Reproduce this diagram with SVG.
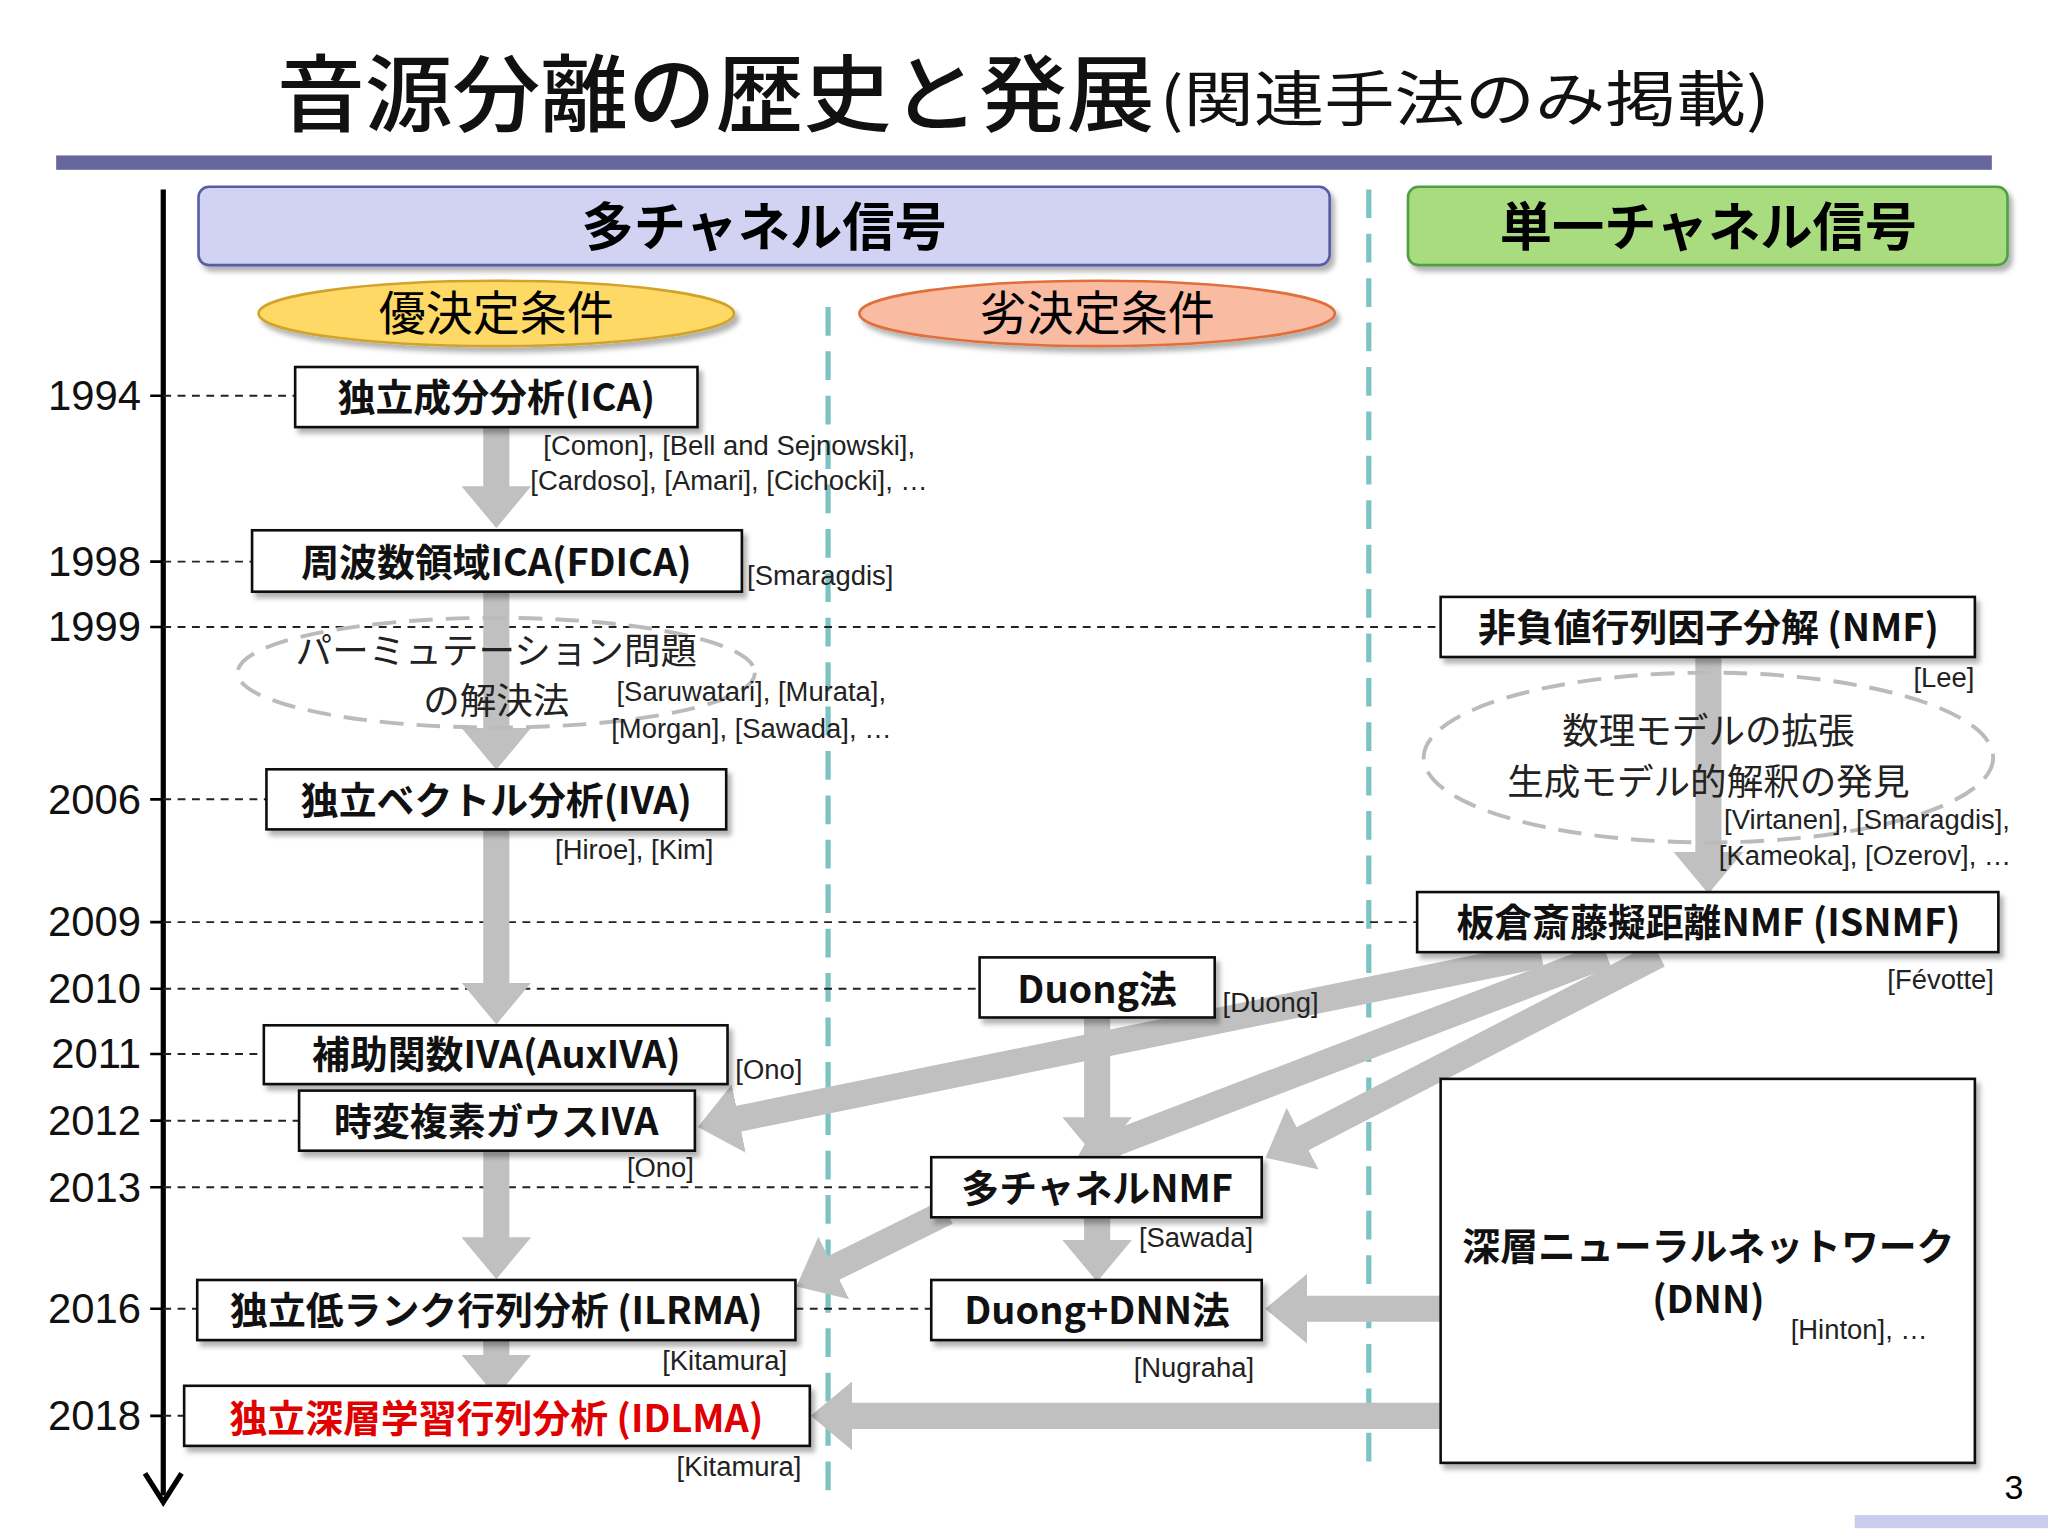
<svg xmlns="http://www.w3.org/2000/svg" width="2048" height="1536" viewBox="0 0 2048 1536">
<defs>
<style>
.t{font-family:"Noto Sans CJK JP","Liberation Sans",sans-serif}
.yr{font-family:"Liberation Sans",sans-serif;font-size:32px;text-anchor:end;fill:#111}
.cite{font-family:"Liberation Sans",sans-serif;font-size:21px;fill:#222}
.bx{fill:#fff;stroke:#111;stroke-width:2;filter:url(#sh)}
.bt{font-family:"Noto Sans CJK JP","Liberation Sans",sans-serif;font-size:29px;font-weight:bold;text-anchor:middle;fill:#111}
.red{fill:#e00000}
.et{font-family:"Noto Sans CJK JP","Liberation Sans",sans-serif;font-size:28px;text-anchor:middle;fill:#222}
.hd{stroke:#222;stroke-width:1.5;stroke-dasharray:6 5;fill:none}
.vd{stroke:#7cc4c4;stroke-width:4;stroke-dasharray:22 12;fill:none}
.ga{stroke:#c0c0c0;stroke-width:20;fill:none;marker-end:url(#ah)}
.de{fill:none;stroke:#bbb;stroke-width:3;stroke-dasharray:18 10}
</style>
<marker id="ah" viewBox="0 0 6 10" refX="0.5" refY="5" markerWidth="1.6" markerHeight="2.8" orient="auto" markerUnits="strokeWidth"><path d="M0,0 L6,5 L0,10 z" fill="#c0c0c0"/></marker>
<filter id="sh" x="-10%" y="-20%" width="120%" height="150%"><feDropShadow dx="3" dy="4" stdDeviation="2" flood-color="#000" flood-opacity="0.3"/></filter>
</defs>
<rect width="2048" height="1536" fill="#fff"/>
<g transform="scale(1.30612)">
<g id="title">
<text class="t" x="212" y="96" font-size="64" font-weight="500" fill="#111" textLength="672" lengthAdjust="spacingAndGlyphs">音源分離の歴史と発展</text>
<text class="t" x="888" y="93" font-size="46" fill="#111" textLength="467" lengthAdjust="spacingAndGlyphs">(関連手法のみ掲載)</text>
<rect x="43" y="119" width="1482" height="11" fill="#66669c"/>
<rect x="1420" y="1160" width="148" height="10" fill="#ccccee"/>
<text x="1542" y="1148" font-family="Liberation Sans,sans-serif" font-size="26" text-anchor="middle">3</text>
</g>
<g id="headers">
<rect x="152" y="143" width="866" height="60" rx="8" fill="#d2d2f2" stroke="#5a5aa8" stroke-width="2" filter="url(#sh)"/>
<text class="t" x="585" y="188" font-size="40" font-weight="bold" text-anchor="middle">多チャネル信号</text>
<rect x="1078" y="143" width="459" height="60" rx="8" fill="#a9db7f" stroke="#4f9f45" stroke-width="2" filter="url(#sh)"/>
<text class="t" x="1308" y="188" font-size="40" font-weight="bold" text-anchor="middle">単一チャネル信号</text>
<ellipse cx="380" cy="240" rx="182" ry="25" fill="#ffd966" stroke="#d2a32a" stroke-width="2" filter="url(#sh)"/>
<text class="t" x="380" y="253" font-size="36" text-anchor="middle">優決定条件</text>
<ellipse cx="840" cy="240" rx="182" ry="25" fill="#f9bba2" stroke="#e0703a" stroke-width="2" filter="url(#sh)"/>
<text class="t" x="840" y="253" font-size="36" text-anchor="middle">劣決定条件</text>
</g>
<g id="grid">
<path class="vd" d="M634,235 V1150"/>
<path class="vd" d="M1048,145 V1130"/>
<line x1="125" y1="145" x2="125" y2="1145" stroke="#000" stroke-width="4"/>
<path d="M111,1128 L125,1150 L139,1128" stroke="#000" stroke-width="4" fill="none"/>
<g stroke="#000" stroke-width="2">
<path d="M115,303H125M115,430H125M115,480H125M115,612H125M115,706H125M115,757H125M115,807H125M115,858H125M115,909H125M115,1002H125M115,1084H125"/>
</g>
<text class="yr" x="108" y="314">1994</text>
<text class="yr" x="108" y="441">1998</text>
<text class="yr" x="108" y="491">1999</text>
<text class="yr" x="108" y="623">2006</text>
<text class="yr" x="108" y="717">2009</text>
<text class="yr" x="108" y="768">2010</text>
<text class="yr" x="108" y="818">2011</text>
<text class="yr" x="108" y="869">2012</text>
<text class="yr" x="108" y="920">2013</text>
<text class="yr" x="108" y="1013">2016</text>
<text class="yr" x="108" y="1095">2018</text>
<path class="hd" d="M125,303H226M125,430H193M125,480H1103M125,612H204M125,706H1085M125,757H750M125,807H202M125,858H229M125,909H713M125,1002H151M609,1002H713M125,1084H141"/>
</g>
<g id="connectors">
<path class="ga" d="M380,327 V375"/>
<path class="ga" d="M380,453 V560"/>
<path class="ga" d="M380,635 V755"/>
<path class="ga" d="M380,881 V950"/>
<path class="ga" d="M380,1026 V1040"/>
<path class="ga" d="M1308,503 V655"/>
<path class="ga" d="M840,779 V858"/>
<path class="ga" d="M840,932 V952"/>
<path class="ga" d="M1180,731 L563,857"/>
<path class="ga" d="M1230,731 L852,876"/>
<path class="ga" d="M1270,731 L995,873"/>
<path class="ga" d="M725,928 L636,972"/>
<path class="ga" d="M1103,1002 H998"/>
<path class="ga" d="M1103,1084 H650"/>
</g>
<g id="dashed-ellipses">
<ellipse class="de" cx="380" cy="515" rx="198" ry="42"/>
<text class="et" x="380" y="508">パーミュテーション問題</text>
<text class="et" x="380" y="547">の解決法</text>
<ellipse class="de" cx="1308" cy="580" rx="218" ry="65"/>
<text class="et" x="1308" y="570">数理モデルの拡張</text>
<text class="et" x="1308" y="609">生成モデル的解釈の発見</text>
</g>
<g id="n-ica"><rect class="bx" x="226" y="281" width="308" height="46"/><text class="bt" x="380" y="315">独立成分分析(ICA)</text>
<text class="cite" x="416" y="348">[Comon], [Bell and Sejnowski],</text><text class="cite" x="406" y="375">[Cardoso], [Amari], [Cichocki], …</text></g>
<g id="n-fdica"><rect class="bx" x="193" y="406" width="375" height="47"/><text class="bt" x="380" y="441">周波数領域ICA(FDICA)</text><text class="cite" x="572" y="448">[Smaragdis]</text></g>
<text class="cite" x="472" y="537">[Saruwatari], [Murata],</text><text class="cite" x="468" y="565">[Morgan], [Sawada], …</text>
<g id="n-iva"><rect class="bx" x="204" y="589" width="352" height="46"/><text class="bt" x="380" y="623">独立ベクトル分析(IVA)</text><text class="cite" x="425" y="658">[Hiroe], [Kim]</text></g>
<g id="n-auxiva"><rect class="bx" x="202" y="785" width="355" height="45"/><text class="bt" x="380" y="818">補助関数IVA(AuxIVA)</text><text class="cite" x="563" y="826">[Ono]</text></g>
<g id="n-tv"><rect class="bx" x="229" y="835" width="303" height="46"/><text class="bt" x="380" y="869">時変複素ガウスIVA</text><text class="cite" x="480" y="901">[Ono]</text></g>
<g id="n-ilrma"><rect class="bx" x="151" y="980" width="458" height="46"/><text class="bt" x="380" y="1014">独立低ランク行列分析 (ILRMA)</text><text class="cite" x="507" y="1049">[Kitamura]</text></g>
<g id="n-idlma"><rect class="bx" x="141" y="1061" width="479" height="46"/><text class="bt red" x="380" y="1096">独立深層学習行列分析 (IDLMA)</text><text class="cite" x="518" y="1130">[Kitamura]</text></g>
<g id="n-nmf"><rect class="bx" x="1103" y="457" width="409" height="46"/><text class="bt" x="1308" y="491">非負値行列因子分解 (NMF)</text><text class="cite" x="1465" y="526">[Lee]</text>
<text class="cite" x="1320" y="635">[Virtanen], [Smaragdis],</text><text class="cite" x="1316" y="662">[Kameoka], [Ozerov], …</text></g>
<g id="n-isnmf"><rect class="bx" x="1085" y="683" width="445" height="46"/><text class="bt" x="1308" y="717">板倉斎藤擬距離NMF (ISNMF)</text><text class="cite" x="1445" y="757">[Févotte]</text></g>
<g id="n-duong"><rect class="bx" x="750" y="733" width="180" height="46"/><text class="bt" x="840" y="768">Duong法</text><text class="cite" x="936" y="775">[Duong]</text></g>
<g id="n-mnmf"><rect class="bx" x="713" y="886" width="253" height="46"/><text class="bt" x="840" y="920">多チャネルNMF</text><text class="cite" x="872" y="955">[Sawada]</text></g>
<g id="n-ddnn"><rect class="bx" x="713" y="980" width="253" height="46"/><text class="bt" x="840" y="1014">Duong+DNN法</text><text class="cite" x="868" y="1054">[Nugraha]</text></g>
<g id="n-dnn"><rect class="bx" x="1103" y="826" width="409" height="294"/><text class="bt" x="1308" y="965">深層ニューラルネットワーク</text><text class="bt" x="1308" y="1005">(DNN)</text><text class="cite" x="1371" y="1025">[Hinton], …</text></g>
</g>
</svg>
